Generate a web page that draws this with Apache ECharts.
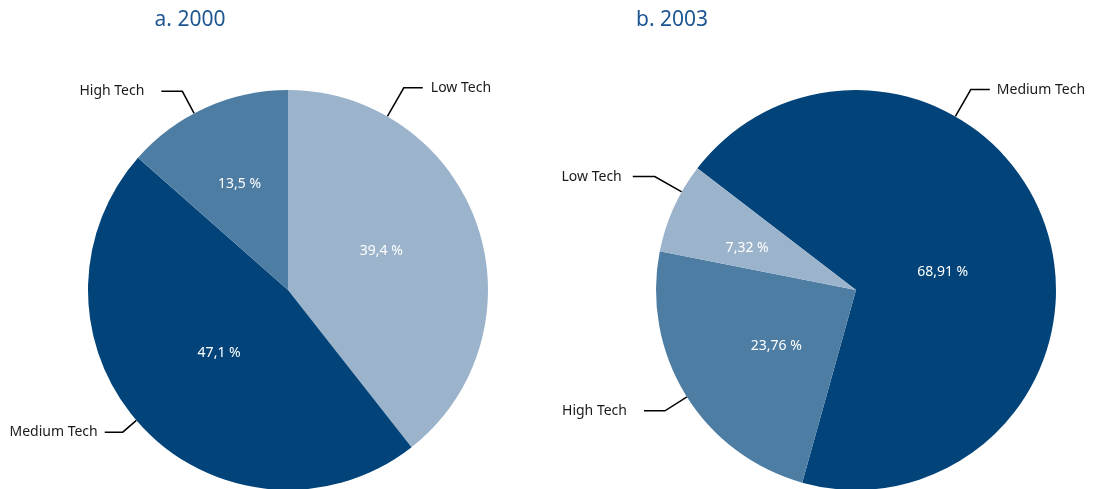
<!DOCTYPE html>
<html>
<head>
<meta charset="utf-8">
<script src="https://cdn.jsdelivr.net/npm/echarts@6/dist/echarts.min.js"></script>
<style>
  html, body { margin: 0; padding: 0; background: #fff; }
  #chart { width: 1095px; height: 489px; }
</style>
</head>
<body>
<div id="chart"></div>
<script>
// data
const titles = ['a. 2000', 'b. 2003'];
const names2000 = ['Low Tech', 'Medium Tech', 'High Tech'];
const values2000 = [39.4, 47.1, 13.5];
const names2003 = ['Medium Tech', 'High Tech', 'Low Tech'];
const values2003 = [68.91, 23.76, 7.32];

const colors = {
    'Low Tech': '#9bb4cc',
    'Medium Tech': '#02437a',
    'High Tech': '#4e7da3'
};

const RADIUS = 200;
const pies = [
    { center: [288, 290], startAngle: 90, names: names2000, values: values2000 },
    { center: [856, 290], startAngle: 142.5, names: names2003, values: values2003 }
];

// leader lines: angle clockwise from 12 o'clock, radial length, horizontal length, text gap
const leaders = [
    {
        'Low Tech': { angle: 29.8, len1: 33, len2: 19, gap: 8 },
        'Medium Tech': { angle: 229.3, len1: 18, len2: 18, gap: 7 },
        'High Tech': { angle: 332, len1: 25, len2: 21, gap: 17 }
    },
    {
        'Medium Tech': { angle: 29.8, len1: 31, len2: 19, gap: 7 },
        'High Tech': { angle: 237.7, len1: 26, len2: 21, gap: 17 },
        'Low Tech': { angle: 299.4, len1: 31, len2: 22, gap: 11 }
    }
];

// small nudges for the percentage labels inside the slices
const insideShift = [
    { 'Low Tech': [-4, -5], 'Medium Tech': [6, -8], 'High Tech': [-6, -12] },
    { 'Medium Tech': [-11, 15], 'High Tech': [8, 2], 'Low Tech': [-15, 0] }
];

function makeData(pie) {
    return pie.names.map((n, i) => ({
        name: n,
        value: pie.values[i],
        itemStyle: { color: colors[n] }
    }));
}

function outsideLayout(pieIdx) {
    const pie = pies[pieIdx];
    return function (params) {
        const name = pie.names[params.dataIndex];
        const l = leaders[pieIdx][name];
        const a = l.angle * Math.PI / 180;
        const sx = Math.sin(a), sy = -Math.cos(a);
        const p0 = [pie.center[0] + RADIUS * sx, pie.center[1] + RADIUS * sy];
        const p1 = [p0[0] + l.len1 * sx, p0[1] + l.len1 * sy];
        const dir = sx >= 0 ? 1 : -1;
        const p2 = [p1[0] + dir * l.len2, p1[1]];
        return {
            x: p2[0] + dir * l.gap,
            y: p2[1],
            align: dir > 0 ? 'left' : 'right',
            verticalAlign: 'middle',
            labelLinePoints: [p0, p1, p2]
        };
    };
}

function insideLayout(pieIdx) {
    const pie = pies[pieIdx];
    return function (params) {
        const s = insideShift[pieIdx][pie.names[params.dataIndex]];
        return { dx: s[0], dy: s[1] };
    };
}

const series = [];
pies.forEach((pie, idx) => {
    series.push({
        type: 'pie',
        center: pie.center,
        radius: RADIUS,
        startAngle: pie.startAngle,
        clockwise: true,
        silent: true,
        data: makeData(pie),
        label: {
            position: 'inside',
            color: '#ffffff',
            fontFamily: 'Noto Sans',
            fontSize: 14,
            formatter: p => String(p.value).replace('.', ',') + ' %'
        },
        labelLine: { show: false },
        labelLayout: insideLayout(idx),
        emphasis: { disabled: true }
    });
    series.push({
        type: 'pie',
        center: pie.center,
        radius: RADIUS,
        startAngle: pie.startAngle,
        clockwise: true,
        silent: true,
        data: makeData(pie).map(d => ({ name: d.name, value: d.value })),
        itemStyle: { color: 'rgba(0,0,0,0)' },
        label: {
            position: 'outside',
            color: '#1a1a1a',
            fontFamily: 'Noto Sans',
            fontSize: 14,
            overflow: 'none',
            formatter: '{b}'
        },
        labelLine: {
            show: true,
            lineStyle: { color: '#000000', width: 1.5 }
        },
        labelLayout: outsideLayout(idx),
        emphasis: { disabled: true }
    });
});

const titleStyle = { color: '#1d5592', fontFamily: 'Noto Sans', fontSize: 21, fontWeight: 'normal' };

const chart = echarts.init(document.getElementById('chart'));
chart.setOption({
    animation: false,
    title: [
        { text: titles[0], left: 185, top: 5, textAlign: 'center', textStyle: titleStyle },
        { text: titles[1], left: 667, top: 5, textAlign: 'center', textStyle: titleStyle }
    ],
    series: series
});
</script>
</body>
</html>
